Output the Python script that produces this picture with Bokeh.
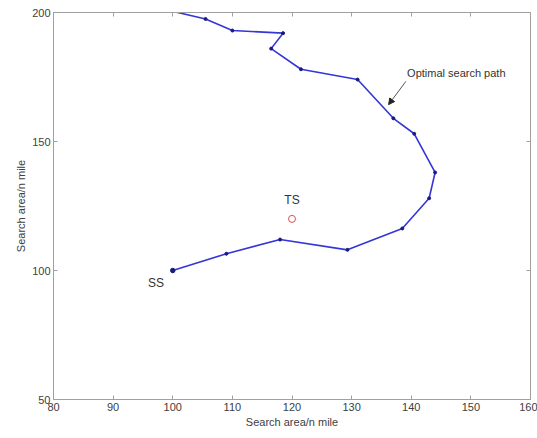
from bokeh.plotting import figure
from bokeh.models import Range1d, LinearAxis, FixedTicker, Arrow, NormalHead, Label
from bokeh.embed import file_html
from bokeh.resources import INLINE

# data
path_x = [100, 109, 118, 129.3, 138.5, 143, 144, 140.5, 137, 131, 121.5, 116.5, 118.5, 110, 105.5, 99]
path_y = [100, 106.5, 112, 108, 116.3, 128, 138, 153, 159, 174, 178, 186, 192, 193, 197.5, 201]
ts_x = [120]
ts_y = [120]
x_ticks = [80, 90, 100, 110, 120, 130, 140, 150, 160]
y_ticks = [50, 100, 150, 200]

FONT = "Liberation Sans"
AX = "#a0a0a0"
TXT = "#404040"

p = figure(width=537, height=438, output_backend="svg", toolbar_location=None,
           x_range=Range1d(80, 160), y_range=Range1d(50, 200),
           x_axis_label="Search area/n mile", y_axis_label="Search area/n mile",
           min_border_left=53, min_border_right=7, min_border_top=12, min_border_bottom=39)
p.grid.visible = False
p.outline_line_color = AX
p.background_fill_color = "white"
p.border_fill_color = "white"

for ax in [p.xaxis[0], p.yaxis[0]]:
    ax.axis_line_color = AX
    ax.major_tick_line_color = AX
    ax.major_tick_in = 4
    ax.major_tick_out = 0
    ax.minor_tick_line_color = None
    ax.major_label_text_font = FONT
    ax.major_label_text_font_size = "11px"
    ax.major_label_text_color = TXT
    ax.axis_label_text_font = FONT
    ax.axis_label_text_font_size = "11px"
    ax.axis_label_text_font_style = "normal"
    ax.axis_label_text_color = TXT
    ax.major_label_standoff = 3
    ax.axis_label_standoff = 2
p.xaxis[0].ticker = FixedTicker(ticks=x_ticks)
p.yaxis[0].ticker = FixedTicker(ticks=y_ticks)

for loc, tk in [("above", x_ticks), ("right", y_ticks)]:
    a = LinearAxis(ticker=FixedTicker(ticks=tk))
    a.axis_line_color = AX
    a.major_tick_line_color = AX
    a.major_tick_in = 4
    a.major_tick_out = 0
    a.minor_tick_line_color = None
    a.major_label_text_font_size = "1px"
    a.major_label_text_color = None
    a.major_label_standoff = 0
    p.add_layout(a, loc)

p.line(path_x, path_y, line_color="#3535d8", line_width=1.6)
p.scatter(path_x, path_y, size=3, color="#1a1a80")
p.scatter(path_x[:1], path_y[:1], size=4.5, color="#1a1a80")
p.scatter(ts_x, ts_y, marker="circle", size=7, fill_color=None, line_color="#e05050", line_width=1)

p.add_layout(Label(x=120, y=124.5, text="TS", text_font=FONT, text_font_size="12px",
                   text_color="#333333", text_align="center", text_baseline="bottom"))
p.add_layout(Label(x=97.2, y=95, text="SS", text_font=FONT, text_font_size="12px",
                   text_color="#333333", text_align="center", text_baseline="middle"))
p.add_layout(Label(x=139.3, y=176.7, text="Optimal search path", text_font=FONT,
                   text_font_size="11px", text_color="#333333", text_align="left",
                   text_baseline="middle"))
p.add_layout(Arrow(x_start=139.1, y_start=173.3, x_end=136.2, y_end=164.3,
                   line_color="#555555", line_width=1,
                   end=NormalHead(size=6, fill_color="#222222", line_color="#222222")))

open("out.html", "w").write(file_html(p, INLINE))
